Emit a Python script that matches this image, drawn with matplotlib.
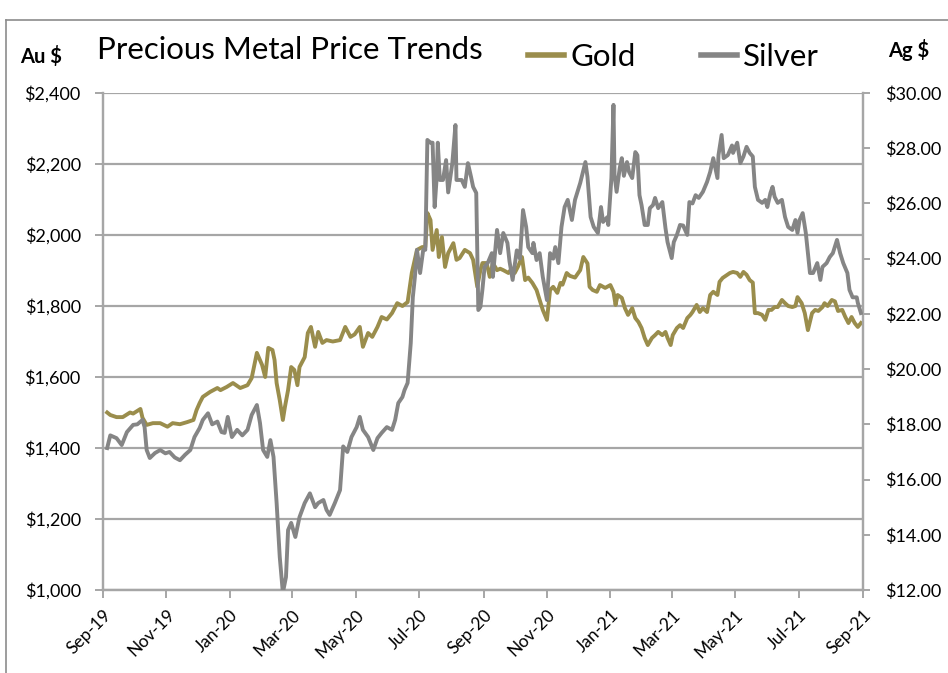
import matplotlib
matplotlib.use("Agg")
import matplotlib.pyplot as plt
import matplotlib.ticker as mticker
from matplotlib.lines import Line2D
import pandas as pd

# ---------------- data ----------------
START = "2019-09-01"
END = "2021-09-01"

# days since 1 Sep 2019 / gold price (US$/oz)
gold_days = [4, 7, 13, 19, 26, 29, 36, 38, 42, 48, 55, 62, 67, 74, 81, 87, 90, 93, 96, 103,
             110, 113, 119, 125, 132, 139, 143, 148, 153, 156, 159, 163, 165, 167, 170, 173, 175, 178, 181, 184,
             187, 189, 194, 197, 200, 204, 207, 211, 215, 221, 228, 233, 238, 242, 247, 250, 255, 259, 264, 268,
             273, 278, 283, 288, 293, 297, 302, 307, 310, 312, 315, 317, 321, 323, 326, 329, 332, 337, 340, 343,
             348, 353, 356, 360, 363, 365, 369, 372, 375, 379, 382, 385, 390, 393, 396, 399, 403, 406, 409, 413,
             417, 420, 423, 427, 430, 433, 437, 440, 442, 446, 449, 454, 459, 462, 466, 468, 471, 475, 478, 481,
             483, 488, 491, 493, 495, 499, 502, 505, 509, 512, 515, 518, 521, 524, 528, 531, 534, 538, 541, 543,
             546, 548, 552, 555, 558, 562, 565, 567, 571, 574, 577, 581, 584, 587, 591, 593, 596, 600, 603, 606,
             610, 613, 616, 619, 622, 625, 627, 630, 634, 637, 640, 643, 646, 649, 653, 656, 659, 663, 666, 668,
             672, 675, 678, 682, 685, 688, 692, 694, 697, 701, 704, 707, 711, 714, 717, 720, 723, 726, 729]
gold_price = [1500, 1493, 1487, 1487, 1500, 1497, 1510, 1485, 1465, 1470, 1470, 1460, 1470, 1467, 1473, 1479, 1507, 1527, 1544, 1558,
              1569, 1563, 1572, 1583, 1569, 1577, 1597, 1668, 1634, 1600, 1682, 1676, 1648, 1583, 1535, 1479, 1516, 1563, 1628, 1620,
              1577, 1628, 1656, 1724, 1741, 1685, 1727, 1696, 1704, 1700, 1704, 1741, 1713, 1720, 1741, 1685, 1724, 1713, 1741, 1769,
              1762, 1780, 1808, 1800, 1811, 1893, 1958, 1966, 1966, 2062, 2042, 1958, 2014, 1938, 1994, 1910, 1949, 1977, 1930, 1935,
              1958, 1949, 1930, 1854, 1901, 1921, 1921, 1882, 1921, 1901, 1905, 1901, 1893, 1905, 1893, 1910, 1938, 1873, 1880, 1865,
              1845, 1817, 1789, 1761, 1845, 1854, 1837, 1865, 1860, 1893, 1885, 1880, 1901, 1938, 1920, 1854, 1845, 1840, 1859, 1854,
              1851, 1859, 1840, 1803, 1831, 1823, 1794, 1775, 1794, 1766, 1755, 1738, 1710, 1690, 1710, 1718, 1727, 1718, 1727, 1710,
              1690, 1718, 1738, 1746, 1738, 1766, 1775, 1783, 1803, 1783, 1794, 1783, 1831, 1840, 1831, 1868, 1879, 1887, 1893, 1896,
              1893, 1882, 1896, 1888, 1873, 1866, 1780, 1780, 1775, 1761, 1789, 1789, 1797, 1797, 1817, 1808, 1800, 1797, 1800, 1825,
              1808, 1780, 1732, 1780, 1789, 1786, 1797, 1808, 1800, 1817, 1813, 1786, 1789, 1769, 1752, 1769, 1752, 1741, 1752]

# days since 1 Sep 2019 / silver price (US$/oz)
silver_days = [4, 7, 13, 18, 23, 29, 33, 38, 40, 42, 45, 50, 55, 60, 64, 69, 74, 79, 84, 88,
               93, 96, 101, 105, 110, 114, 117, 120, 124, 129, 134, 139, 143, 148, 151, 154, 158, 161, 164, 167,
               170, 172, 173, 176, 178, 181, 185, 189, 194, 199, 204, 207, 212, 215, 218, 223, 228, 231, 235, 239,
               244, 247, 250, 255, 260, 264, 268, 273, 278, 281, 284, 288, 290, 293, 296, 298, 300, 302, 305, 308,
               310, 312, 315, 317, 319, 321, 322, 324, 327, 330, 332, 336, 339, 340, 345, 348, 351, 354, 356, 359,
               361, 363, 365, 367, 370, 374, 375, 379, 382, 385, 389, 391, 394, 398, 401, 404, 407, 409, 413, 414,
               417, 420, 423, 427, 430, 433, 435, 438, 441, 444, 447, 451, 454, 459, 464, 466, 469, 472, 476, 479,
               481, 485, 486, 489, 491, 492, 494, 497, 499, 501, 504, 506, 509, 512, 514, 516, 518, 521, 524, 526,
               529, 531, 534, 538, 541, 543, 547, 549, 552, 555, 558, 562, 564, 567, 570, 573, 577, 581, 584, 587,
               591, 592, 595, 597, 601, 605, 606, 610, 613, 616, 619, 622, 625, 627, 630, 634, 637, 639, 642, 644,
               646, 649, 653, 656, 659, 663, 666, 668, 670, 673, 676, 680, 683, 687, 690, 692, 696, 699, 702, 706,
               709, 712, 716, 718, 721, 725, 726, 729]
silver_price = [17.14, 17.6, 17.5, 17.25, 17.72, 17.98, 18.0, 18.16, 17.9, 17.07, 16.78, 16.96, 17.07, 16.95, 17.0, 16.8, 16.7, 16.9, 17.07, 17.54,
                17.87, 18.16, 18.4, 18.0, 18.1, 17.72, 17.69, 18.27, 17.54, 17.8, 17.6, 17.8, 18.34, 18.7, 18.05, 17.07, 16.82, 17.43, 16.82, 15.15,
                13.2, 12.36, 11.9, 12.47, 14.17, 14.43, 13.92, 14.64, 15.15, 15.5, 15.0, 15.15, 15.26, 14.9, 14.72, 15.15, 15.62, 17.2, 17.0, 17.54,
                17.9, 18.27, 17.8, 17.54, 17.07, 17.5, 17.69, 17.9, 17.8, 18.16, 18.77, 18.99, 19.24, 19.5, 20.94, 22.6, 23.34, 24.32, 23.48, 24.32,
                24.32, 28.3, 28.2, 28.2, 25.87, 26.96, 28.2, 26.85, 26.85, 27.57, 26.4, 27.46, 28.84, 26.85, 26.85, 26.6, 27.46, 26.96, 26.6, 26.38,
                22.14, 22.25, 22.9, 23.7, 23.84, 24.2, 23.34, 25.04, 24.2, 24.93, 24.57, 23.9, 23.23, 24.3, 24.0, 25.76, 25.15, 24.42, 24.2, 24.57,
                23.95, 24.2, 23.34, 22.5, 24.2, 24.0, 24.42, 23.84, 25.15, 25.87, 26.13, 25.4, 26.13, 26.74, 27.5, 26.96, 25.51, 25.15, 24.93, 25.87,
                25.33, 25.5, 25.22, 26.92, 29.57, 27.03, 26.42, 27.28, 27.64, 27.0, 27.5, 27.14, 26.92, 27.86, 27.75, 26.3, 25.94, 25.22, 25.22, 25.83,
                25.94, 26.2, 25.83, 26.05, 25.11, 24.6, 24.02, 24.6, 24.86, 25.22, 25.2, 24.86, 26.05, 26.0, 26.3, 26.2, 26.42, 26.78, 27.14, 27.64,
                26.92, 27.75, 28.48, 27.64, 27.75, 28.1, 27.83, 28.2, 27.46, 27.7, 28.05, 27.83, 27.7, 26.6, 26.13, 26.02, 26.13, 25.87, 26.38, 26.6,
                26.24, 26.02, 26.13, 25.51, 25.15, 25.04, 25.4, 24.93, 25.4, 25.65, 24.93, 23.48, 23.48, 23.84, 23.23, 23.7, 23.84, 24.06, 24.2, 24.68,
                24.2, 23.84, 23.48, 22.87, 22.6, 22.6, 22.4, 22.03]

title_text = "Precious Metal Price Trends"
series_names = ["Gold", "Silver"]
left_unit = "Au $"
right_unit = "Ag $"

# ---------------- style ----------------
GOLD = "#9a8d4c"
SILVER = "#858585"
GRID = "#a6a6a6"
FONT = ["Lato", "DejaVu Sans"]
plt.rcParams["font.family"] = FONT

fig = plt.figure(figsize=(9.48, 6.73), dpi=100)
ax = fig.add_axes([103 / 948, 83 / 673, 760 / 948, 497 / 673])
ax2 = ax.twinx()

start = pd.Timestamp(START)
g_dates = start + pd.to_timedelta(gold_days, unit="D")
s_dates = start + pd.to_timedelta(silver_days, unit="D")

ax.plot(g_dates, gold_price, color=GOLD, lw=2.8, solid_joinstyle="round", zorder=3)
ax2.plot(s_dates, silver_price, color=SILVER, lw=2.8, solid_joinstyle="round", zorder=3)

ax.set_xlim(start, pd.Timestamp(END))
ax.set_ylim(1000, 2400)
ax2.set_ylim(12, 30)

ax.yaxis.set_major_locator(mticker.MultipleLocator(200))
ax.yaxis.set_major_formatter(mticker.FuncFormatter(lambda v, p: f"${v:,.0f}"))
ax2.yaxis.set_major_locator(mticker.MultipleLocator(2))
ax2.yaxis.set_major_formatter(mticker.FuncFormatter(lambda v, p: f"${v:.2f}"))

xt = pd.date_range(START, END, freq="2MS")
ax.set_xticks(xt)
ax.set_xticklabels([d.strftime("%b-%y") for d in xt], rotation=45, ha="right",
                   rotation_mode="anchor", fontsize=12.5)

ax.grid(axis="y", color=GRID, lw=1.6, zorder=0)
ax.set_axisbelow(True)

for a in (ax, ax2):
    for side, sp in a.spines.items():
        sp.set_color(GRID)
        sp.set_linewidth(1.6)
    a.spines["top"].set_visible(False)
ax.tick_params(axis="y", direction="out", length=6, width=1.4, color=GRID, labelsize=13, pad=10)
ax.tick_params(axis="x", direction="out", length=6, width=1.4, color=GRID, pad=6)
ax2.tick_params(axis="y", direction="out", length=5, width=1.4, color=GRID, labelsize=13, pad=11)

# title, legend, unit labels
fig.text(97 / 948, 1 - 50 / 673, title_text, fontsize=22.5, va="center", ha="left")
fig.text(20 / 948, 1 - 57 / 673, left_unit, fontsize=14.5, fontweight="bold", va="center", ha="left")
fig.text(888 / 948, 1 - 50 / 673, right_unit, fontsize=14.5, fontweight="bold", va="center", ha="left")

h_gold = Line2D([], [], color=GOLD, lw=4)
h_silver = Line2D([], [], color=SILVER, lw=4)
leg = fig.legend([h_gold, h_silver], series_names, loc="center left",
                 bbox_to_anchor=(528 / 948, 1 - 57 / 673), ncol=2, frameon=False,
                 fontsize=22.5, handlelength=1.15, handletextpad=0.2, columnspacing=2.1,
                 borderpad=0, borderaxespad=0)

# outer frame (top and left edges visible)
fig.add_artist(Line2D([6 / 948, 1.0], [1 - 20 / 673, 1 - 20 / 673], color="#8c8c8c", lw=1.2,
                      transform=fig.transFigure))
fig.add_artist(Line2D([6 / 948, 6 / 948], [0, 1 - 20 / 673], color="#8c8c8c", lw=1.2,
                      transform=fig.transFigure))

fig.savefig("out.png", dpi=100)
